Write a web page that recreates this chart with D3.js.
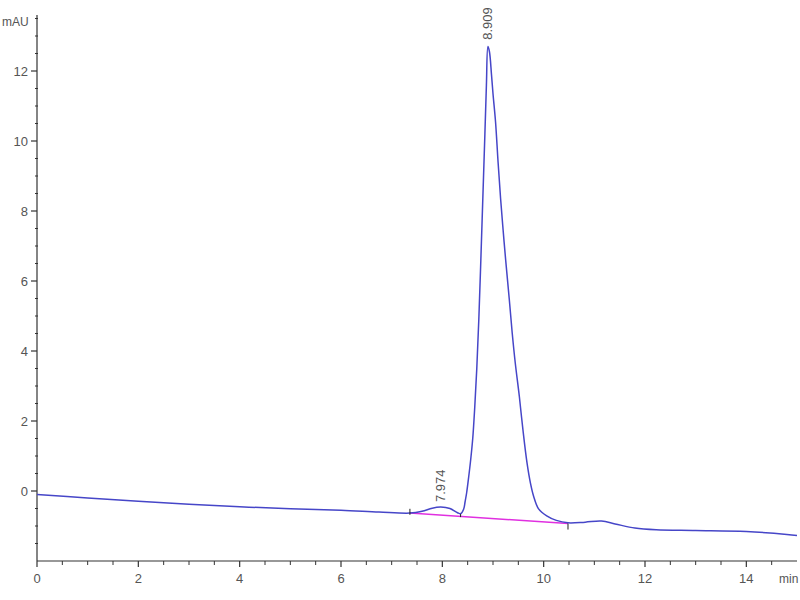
<!DOCTYPE html>
<html><head><meta charset="utf-8">
<script src="https://cdn.jsdelivr.net/npm/d3@7"></script>
<style>body{margin:0;background:#fff;} svg{display:block;} text{font-family:"Liberation Sans",Arial,sans-serif;}</style>
</head><body><svg id="c" width="800" height="600"></svg>
<script>
// Retention time (min)
const times = [0,1,2,3,4,5,6,6.75,7.36,7.6,7.8,7.97,8.15,8.3,8.36,8.42,8.45,8.48,8.52,8.56,8.6,8.64,8.68,8.72,8.76,8.8,8.84,8.87,8.9,8.93,8.97,9.0,9.05,9.1,9.15,9.2,9.25,9.32,9.38,9.44,9.52,9.59,9.67,9.74,9.8,9.9,10.06,10.25,10.48,10.82,11.14,11.41,11.8,12.22,13,14,14.8,15];
// Absorbance (mAU)
const signal = [-0.10,-0.20,-0.29,-0.38,-0.45,-0.51,-0.55,-0.60,-0.63,-0.58,-0.49,-0.46,-0.50,-0.62,-0.65,-0.52,-0.30,-0.05,0.40,0.90,1.50,2.40,3.50,4.90,6.60,8.40,10.20,11.60,12.70,12.55,11.90,11.35,10.55,9.40,8.35,7.45,6.60,5.50,4.50,3.65,2.70,1.76,0.82,0.22,-0.14,-0.51,-0.71,-0.84,-0.91,-0.89,-0.86,-0.94,-1.06,-1.11,-1.13,-1.16,-1.24,-1.27];
// Integration baseline (start, end)
const baseTimes = [7.36, 10.48];
const baseValues = [-0.63, -0.93];
// Peak labels
const peakTimes = [7.974, 8.909];
const peakValues = [-0.46, 12.75];
const peakLabels = ["7.974", "8.909"];
const xTicks = [0,2,4,6,8,10,12,14];
const yTicks = [0,2,4,6,8,10,12];

const svg = d3.select("#c");
const x = d3.scaleLinear().domain([0,15]).range([37,797]);
const y = d3.scaleLinear().domain([-2,13.6]).range([561,15]);

const axisColor = "#333";
const labelColor = "#555";

// axes lines
svg.append("line").attr("x1",x(0)).attr("x2",797).attr("y1",y(-2)).attr("y2",y(-2)).attr("stroke",axisColor).attr("stroke-width",1.2);
svg.append("line").attr("x1",x(0)).attr("x2",x(0)).attr("y1",y(-2)).attr("y2",y(13.6)).attr("stroke",axisColor).attr("stroke-width",1.2);

// x ticks
const xMinor = d3.range(0.5,15,0.5).filter(v=>!xTicks.includes(v));
svg.selectAll(".xmin").data(xMinor).enter().append("line")
  .attr("x1",d=>x(d)).attr("x2",d=>x(d)).attr("y1",y(-2)).attr("y2",y(-2)+4).attr("stroke",axisColor);
svg.selectAll(".xmaj").data(xTicks).enter().append("line")
  .attr("x1",d=>x(d)).attr("x2",d=>x(d)).attr("y1",y(-2)).attr("y2",y(-2)+6).attr("stroke",axisColor).attr("stroke-width",1.2);
svg.selectAll(".xl").data(xTicks).enter().append("text")
  .attr("x",d=>x(d)).attr("y",583).attr("text-anchor","middle").attr("font-size",13).attr("fill",labelColor).text(d=>d);
svg.append("text").attr("x",779).attr("y",583).attr("font-size",12).attr("fill",labelColor).text("min");

// y ticks
const yMinor = d3.range(-1.5,13.6,0.5).filter(v=>!yTicks.includes(v));
svg.selectAll(".ymin").data(yMinor).enter().append("line")
  .attr("x1",x(0)-2).attr("x2",x(0)+1).attr("y1",d=>y(d)).attr("y2",d=>y(d)).attr("stroke",axisColor);
svg.selectAll(".ymaj").data(yTicks).enter().append("line")
  .attr("x1",x(0)-6).attr("x2",x(0)).attr("y1",d=>y(d)).attr("y2",d=>y(d)).attr("stroke",axisColor).attr("stroke-width",1.2);
svg.selectAll(".yl").data(yTicks).enter().append("text")
  .attr("x",x(0)-9).attr("y",d=>y(d)+4.5).attr("text-anchor","end").attr("font-size",13).attr("fill",labelColor).text(d=>d);
svg.append("text").attr("x",2).attr("y",26).attr("font-size",12).attr("fill",labelColor).text("mAU");

// integration baseline
svg.append("line").attr("x1",x(baseTimes[0])).attr("y1",y(baseValues[0])).attr("x2",x(baseTimes[1])).attr("y2",y(baseValues[1]))
  .attr("stroke","#e030e0").attr("stroke-width",1.6);

// signal
const pts = times.map((t,i)=>[t,signal[i]]);
svg.append("path").datum(pts).attr("fill","none").attr("stroke","#4646c8").attr("stroke-width",1.5)
  .attr("d",d3.line().x(d=>x(d[0])).y(d=>y(d[1])).curve(d3.curveCatmullRom.alpha(0.5)));

// peak boundary ticks
[[baseTimes[0],baseValues[0]-0.05,-1],[baseTimes[1],baseValues[1],1]].forEach(([t,v,dir])=>{
  svg.append("line").attr("x1",x(t)).attr("x2",x(t)).attr("y1",y(v)).attr("y2",y(v)+dir*6).attr("stroke","#222").attr("stroke-width",1);
});
svg.append("line").attr("x1",x(8.36)).attr("x2",x(8.36)).attr("y1",y(-0.66)).attr("y2",y(-0.66)+3).attr("stroke","#222");

// peak labels
peakTimes.forEach((t,i)=>{
  svg.append("text").attr("transform",`translate(${x(t)+4},${y(peakValues[i])-5}) rotate(-90)`)
    .attr("font-size",13).attr("fill",labelColor).text(peakLabels[i]);
});
</script></body></html>
